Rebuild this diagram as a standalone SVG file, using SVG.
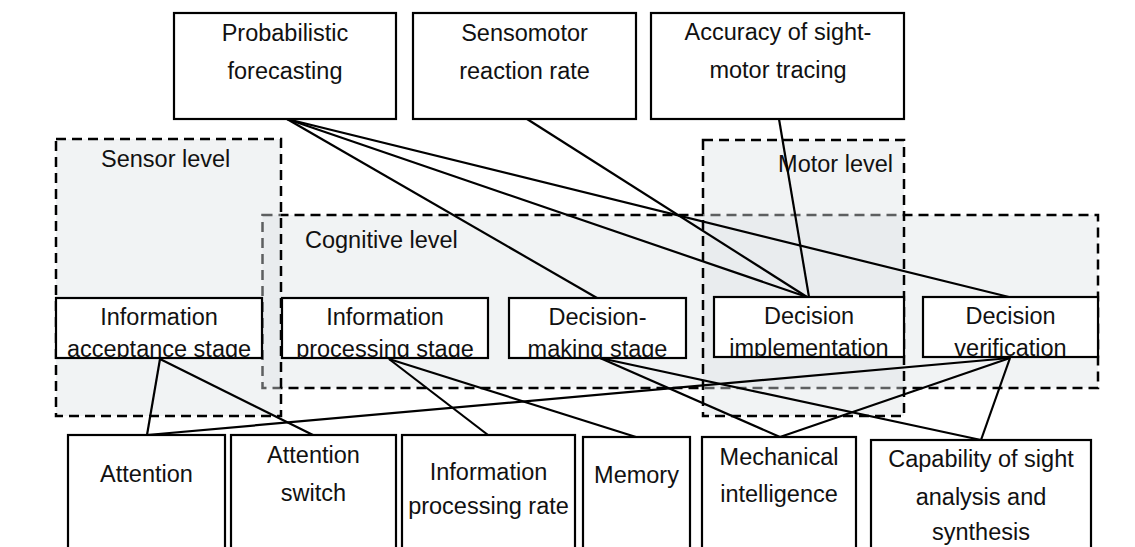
<svg xmlns="http://www.w3.org/2000/svg" width="1135" height="547" viewBox="0 0 1135 547">
<style>
.bg{fill:#ffffff}
.lvl{fill:rgb(222,226,229);fill-opacity:0.42;stroke:#000;stroke-width:2.5;stroke-dasharray:10,6}
.box{fill:#fff;stroke:#000;stroke-width:2.2}
.t{font-family:"Liberation Sans",Arial,sans-serif;font-size:23.5px;fill:#111;text-anchor:middle}
.lt{font-family:"Liberation Sans",Arial,sans-serif;font-size:23.5px;fill:#111}
.c line{stroke:#000;stroke-width:2.2;fill:none}
</style>
<defs>
<clipPath id="k1"><rect x="56" y="298" width="206" height="60"/></clipPath>
<clipPath id="k2"><rect x="282" y="298" width="206" height="60"/></clipPath>
<clipPath id="k3"><rect x="509" y="298" width="177" height="60"/></clipPath>
<clipPath id="k4"><rect x="714" y="297" width="190" height="60"/></clipPath>
<clipPath id="k5"><rect x="923" y="297" width="175" height="60"/></clipPath>
</defs>
<rect class="bg" x="0" y="0" width="1135" height="547"/>
<g id="levels">
<g id="cognitive-level"><rect class="lvl" x="262.5" y="215" width="835.5" height="173"/><text class="lt" x="305" y="248">Cognitive level</text></g>
<g id="sensor-level"><rect class="lvl" x="56" y="139" width="225" height="277"/><text class="lt" x="101" y="167">Sensor level</text></g>
<g id="motor-level"><rect class="lvl" x="703" y="140" width="201" height="276"/><text class="lt" x="893" y="172" text-anchor="end">Motor level</text></g>
</g>
<g id="connectors" class="c">
<line x1="287" y1="119" x2="1009" y2="297"/>
<line x1="287" y1="119" x2="807" y2="297"/>
<line x1="287" y1="119" x2="597" y2="298"/>
<line x1="527" y1="119" x2="807" y2="297"/>
<line x1="779" y1="119" x2="809" y2="297"/>
<line x1="160" y1="359" x2="147" y2="435"/>
<line x1="160" y1="359" x2="313" y2="435"/>
<line x1="389" y1="359" x2="488" y2="435"/>
<line x1="389" y1="359" x2="636" y2="437"/>
<line x1="600" y1="358" x2="780" y2="437"/>
<line x1="600" y1="358" x2="981" y2="440"/>
<line x1="1010" y1="358" x2="147" y2="435"/>
<line x1="1010" y1="358" x2="780" y2="437"/>
<line x1="1010" y1="358" x2="981" y2="440"/>
</g>
<g id="n-prob"><rect class="box" x="174" y="13" width="222" height="106"/><text class="t" x="285" y="41">Probabilistic</text><text class="t" x="285" y="79">forecasting</text></g>
<g id="n-senso"><rect class="box" x="413" y="13" width="223" height="106"/><text class="t" x="524.5" y="41">Sensomotor</text><text class="t" x="524.5" y="79">reaction rate</text></g>
<g id="n-acc"><rect class="box" x="651" y="13" width="253" height="106"/><text class="t" x="778" y="40">Accuracy of sight-</text><text class="t" x="778" y="78">motor tracing</text></g>
<g id="n-accept"><rect class="box" x="56" y="298" width="206" height="60"/><g clip-path="url(#k1)"><text class="t" x="159" y="325">Information</text><text class="t" x="159" y="357">acceptance stage</text></g></g>
<g id="n-process"><rect class="box" x="282" y="298" width="206" height="60"/><g clip-path="url(#k2)"><text class="t" x="385" y="325">Information</text><text class="t" x="385" y="357">processing stage</text></g></g>
<g id="n-decide"><rect class="box" x="509" y="298" width="177" height="60"/><g clip-path="url(#k3)"><text class="t" x="597.5" y="325">Decision-</text><text class="t" x="597.5" y="357">making stage</text></g></g>
<g id="n-impl"><rect class="box" x="714" y="297" width="190" height="60"/><g clip-path="url(#k4)"><text class="t" x="809" y="324">Decision</text><text class="t" x="809" y="356">implementation</text></g></g>
<g id="n-verif"><rect class="box" x="923" y="297" width="175" height="60"/><g clip-path="url(#k5)"><text class="t" x="1010.5" y="324">Decision</text><text class="t" x="1010.5" y="356">verification</text></g></g>
<g id="n-attention"><rect class="box" x="68" y="435" width="157" height="130"/><text class="t" x="146.5" y="482">Attention</text></g>
<g id="n-switch"><rect class="box" x="231" y="435" width="165" height="130"/><text class="t" x="313.5" y="463">Attention</text><text class="t" x="313.5" y="501">switch</text></g>
<g id="n-rate"><rect class="box" x="402" y="435" width="173" height="130"/><text class="t" x="488.5" y="480">Information</text><text class="t" x="488.5" y="514">processing rate</text></g>
<g id="n-memory"><rect class="box" x="583" y="437" width="107" height="130"/><text class="t" x="636.5" y="483">Memory</text></g>
<g id="n-mech"><rect class="box" x="702" y="437" width="154" height="130"/><text class="t" x="779" y="465">Mechanical</text><text class="t" x="779" y="502">intelligence</text></g>
<g id="n-cap"><rect class="box" x="871" y="440" width="220" height="130"/><text class="t" x="981" y="467">Capability of sight</text><text class="t" x="981" y="505">analysis and</text><text class="t" x="981" y="540">synthesis</text></g>
</svg>
